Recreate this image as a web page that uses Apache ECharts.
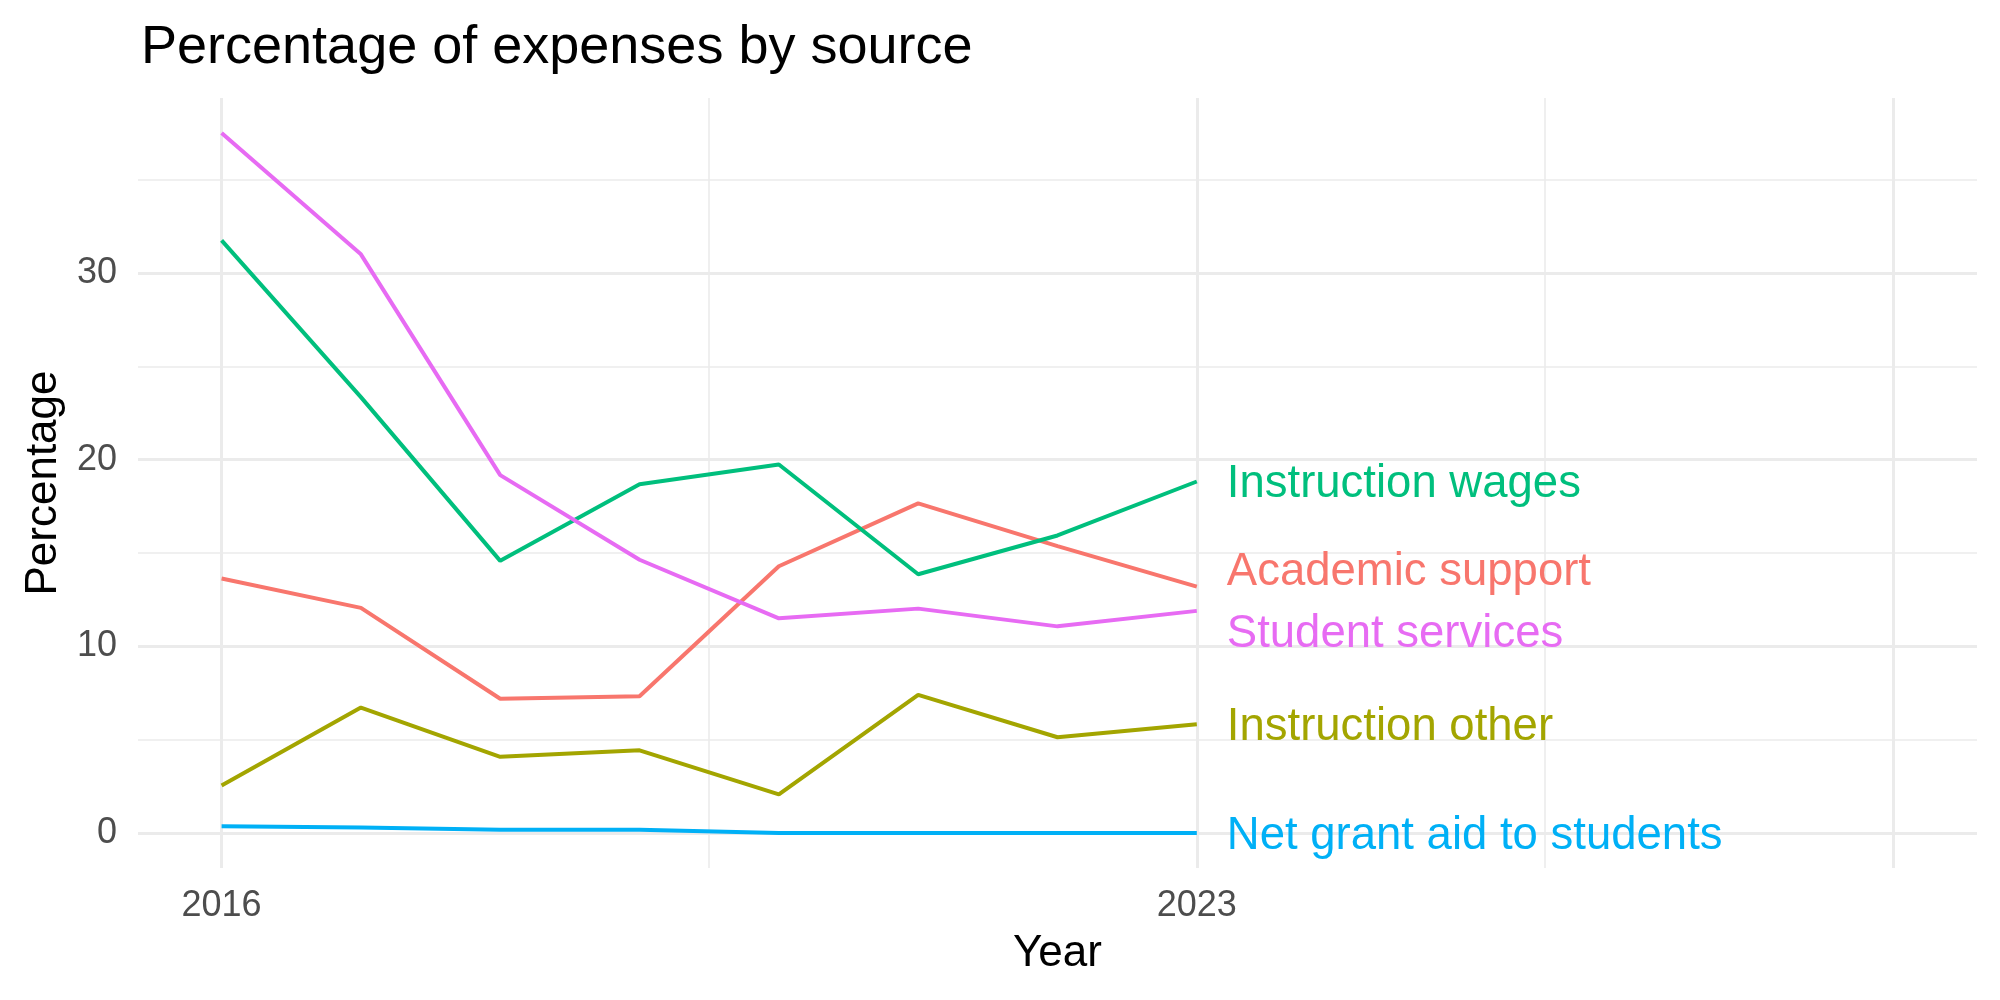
<!DOCTYPE html>
<html>
<head>
<meta charset="utf-8">
<script src="https://cdn.jsdelivr.net/npm/echarts@6/dist/echarts.min.js"></script>
<style>
  html, body { margin: 0; padding: 0; background: #fff; }
  #chart { width: 2000px; height: 1000px; }
</style>
</head>
<body>
<div id="chart"></div>
<script>
// values
var years = [2016, 2017, 2018, 2019, 2020, 2021, 2022, 2023];
var academicSupport   = [13.63, 12.06, 7.19, 7.33, 14.29, 17.66, 15.37, 13.20];
var instructionOther  = [2.54, 6.72, 4.08, 4.43, 2.07, 7.40, 5.13, 5.83];
var instructionWages  = [31.75, 23.35, 14.58, 18.68, 19.74, 13.86, 15.94, 18.83];
var netGrantAid       = [0.36, 0.29, 0.17, 0.17, 0, 0, 0, 0];
var studentServices   = [37.5, 31.0, 19.17, 14.64, 11.5, 12.02, 11.07, 11.9];

var seriesNames = ['Academic support', 'Instruction other', 'Instruction wages', 'Net grant aid to students', 'Student services'];
var seriesValues = [academicSupport, instructionOther, instructionWages, netGrantAid, studentServices];
var colors = ['#F8766D', '#A3A500', '#00BF7D', '#00B0F6', '#E76BF3'];
// vertical nudge of the end labels (repelled apart)
var labelNudge = [-14, 3, 3, 3, 24];

var xTickLabels = [2016, 2023];
var xMajor = [2016, 2023, 2028];
var xMinor = [2019.5, 2025.5];
var yTickLabels = [0, 10, 20, 30];
var yMinor = [5, 15, 25, 35];

var FONT = 'Liberation Sans, Arial, sans-serif';
var GRID = '#EBEBEB';

var chartDom = document.getElementById('chart');
var myChart = echarts.init(chartDom);

function gridLines() {
    var out = [];
    xMajor.forEach(function (v) { out.push({ xAxis: v, lineStyle: { width: 3 } }); });
    xMinor.forEach(function (v) { out.push({ xAxis: v, lineStyle: { width: 1.6 } }); });
    yTickLabels.forEach(function (v) { out.push({ yAxis: v, lineStyle: { width: 3 } }); });
    yMinor.forEach(function (v) { out.push({ yAxis: v, lineStyle: { width: 1.6 } }); });
    return out;
}

var series = [{
    name: 'grid',
    type: 'line',
    data: [],
    z: 1,
    silent: true,
    markLine: {
        z: 0,
        silent: true,
        symbol: ['none', 'none'],
        label: { show: false },
        lineStyle: { color: GRID, type: 'solid' },
        emphasis: { disabled: true },
        data: gridLines()
    }
}];

seriesNames.forEach(function (name, i) {
    series.push({
        name: name,
        type: 'line',
        z: 3,
        showSymbol: false,
        data: years.map(function (y, j) { return [y, seriesValues[i][j]]; }),
        lineStyle: { color: colors[i], width: 4 },
        itemStyle: { color: colors[i] },
        endLabel: {
            show: true,
            formatter: '{a}',
            color: colors[i],
            fontFamily: FONT,
            fontSize: 45.5,
            distance: 30,
            offset: [0, labelNudge[i]]
        }
    });
});

var option = {
    animation: false,
    backgroundColor: '#fff',
    title: {
        text: 'Percentage of expenses by source',
        left: 136,
        top: 16,
        textStyle: { fontFamily: FONT, fontSize: 54, fontWeight: 'normal', color: '#000' }
    },
    grid: { left: 138, right: 23, top: 98, bottom: 132 },
    xAxis: {
        type: 'value',
        min: 2015.4,
        max: 2028.6,
        name: 'Year',
        nameLocation: 'middle',
        nameGap: 64,
        nameTextStyle: { fontFamily: FONT, fontSize: 44, color: '#000' },
        axisLine: { show: false },
        axisTick: { show: false },
        splitLine: { show: false },
        axisLabel: {
            customValues: xTickLabels,
            fontFamily: FONT,
            fontSize: 36,
            color: '#4D4D4D',
            margin: 20,
            formatter: function (v) { return String(v); }
        }
    },
    yAxis: {
        type: 'value',
        min: -1.875,
        max: 39.375,
        name: 'Percentage',
        nameLocation: 'middle',
        nameGap: 72,
        nameTextStyle: { fontFamily: FONT, fontSize: 44, color: '#000' },
        axisLine: { show: false },
        axisTick: { show: false },
        splitLine: { show: false },
        axisLabel: {
            customValues: yTickLabels,
            fontFamily: FONT,
            fontSize: 36,
            color: '#4D4D4D',
            margin: 21
        }
    },
    series: series
};

option && myChart.setOption(option);
</script>
</body>
</html>
